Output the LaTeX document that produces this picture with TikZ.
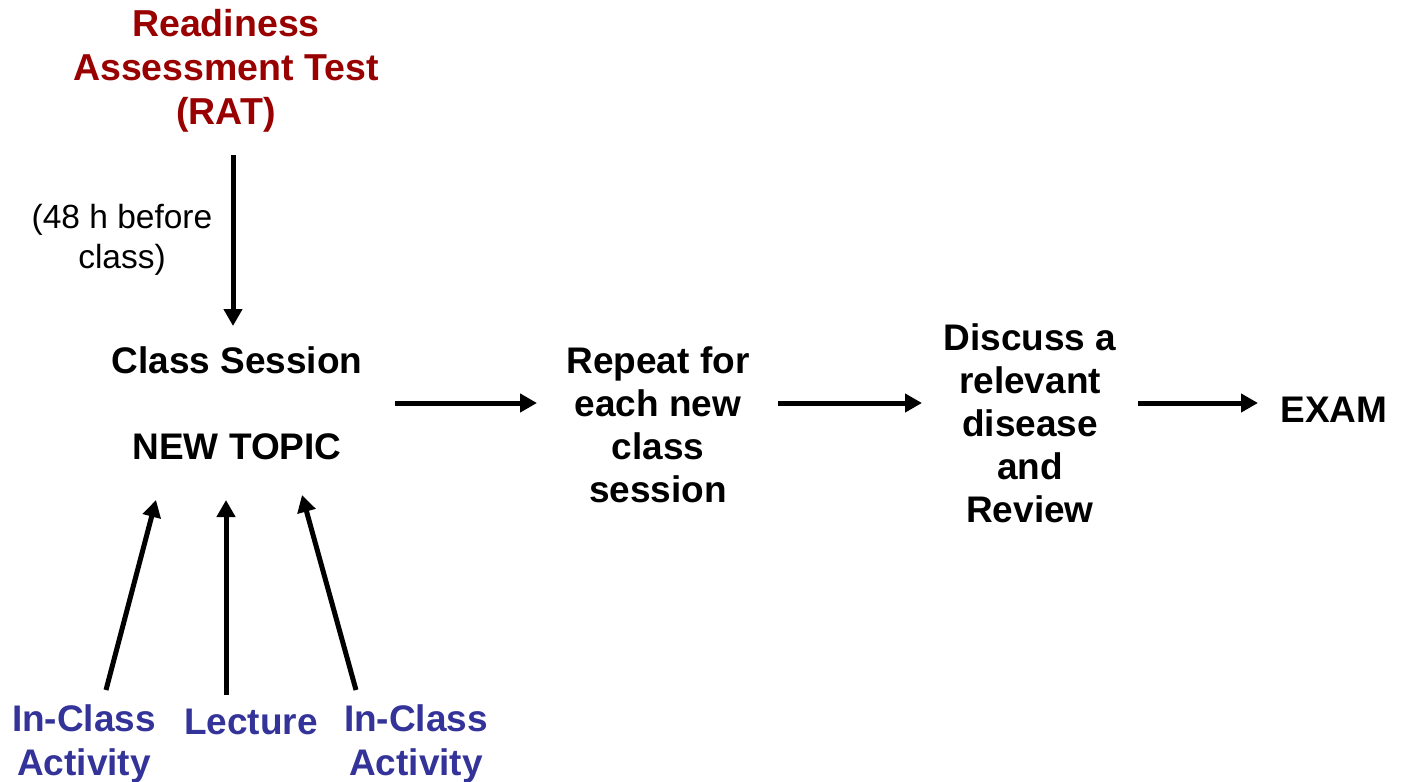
\documentclass[tikz,border=0pt]{standalone}
\usepackage{fontspec}
\setmainfont{Liberation Sans}
\usetikzlibrary{arrows.meta,calc}
\definecolor{ratred}{RGB}{153,0,0}
\definecolor{actblue}{RGB}{51,51,153}
\tikzset{
  lbl/.style={align=center,inner sep=0pt,font=\fontsize{37}{43}\selectfont\bfseries},
  redlbl/.style={lbl,text=ratred,font=\fontsize{37.5}{44}\selectfont\bfseries},
  bluelbl/.style={lbl,text=actblue,font=\fontsize{37}{44}\selectfont\bfseries},
  note/.style={align=center,inner sep=0pt,font=\fontsize{33.5}{40}\selectfont},
  arr/.style={line width=5pt,-{Triangle[length=17pt,width=18pt]}}
}
\begin{document}
\begin{tikzpicture}[x=1pt,y=-1pt]
\useasboundingbox (0,0) rectangle (1401,782);
\node[redlbl] (rat) at (226,71) {Readiness\\Assessment Test\\(RAT)};
\node[note] (hrs) at (122,240) {(48 h before\\class)};
\node[lbl] (class) at (237,360) {Class Session};
\node[lbl] (topic) at (237,447) {NEW TOPIC};
\node[lbl] (repeat) at (658,425) {Repeat for\\each new\\class\\session};
\node[lbl] (discuss) at (1030,423) {Discuss a\\relevant\\disease\\and\\Review};
\node[lbl] (exam) at (1334,410) {EXAM};
\node[bluelbl] (ica1) at (84,744) {In-Class\\Activity};
\node[bluelbl] (lect) at (251,722) {Lecture};
\node[bluelbl] (ica2) at (416,744) {In-Class\\Activity};

\draw[arr] ($(rat.center)+(7,84)$) -- ($(class.center)+(-4,-34)$);
\draw[arr] ($(topic.center)+(158,-44)$) -- ($(repeat.center)+(-121,-22)$);
\draw[arr] ($(repeat.center)+(120,-22)$) -- ($(discuss.center)+(-108,-20)$);
\draw[arr] ($(discuss.center)+(108,-20)$) -- ($(exam.center)+(-76,-7)$);
\draw[arr] ($(ica1.center)+(22,-54)$) -- ($(topic.center)+(-81,53)$);
\draw[arr] ($(lect.center)+(-25,-27)$) -- ($(topic.center)+(-11,53)$);
\draw[arr] ($(ica2.center)+(-60,-54)$) -- ($(topic.center)+(65,48)$);
\end{tikzpicture}
\end{document}
